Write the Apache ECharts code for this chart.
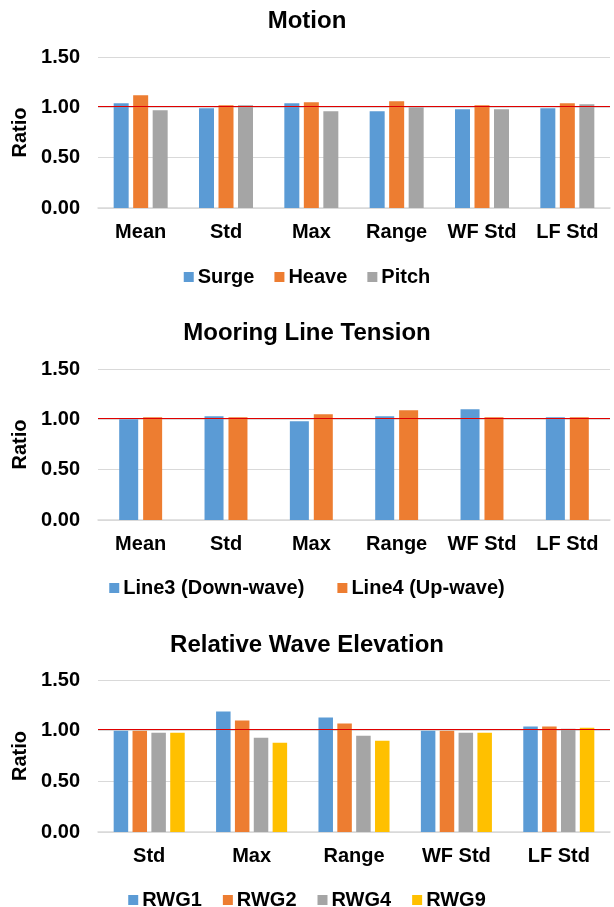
<!DOCTYPE html>
<html>
<head>
<meta charset="utf-8">
<script src="https://cdn.jsdelivr.net/npm/echarts@6/dist/echarts.min.js"></script>
<style>
  html, body { margin: 0; padding: 0; background: #fff; }
  #chart { width: 614px; height: 907px; }
</style>
</head>
<body>
<div id="chart"></div>
<script>
// categories
const motionCats = ['Mean', 'Std', 'Max', 'Range', 'WF Std', 'LF Std']
const mooringCats = ['Mean', 'Std', 'Max', 'Range', 'WF Std', 'LF Std']
const waveCats = ['Std', 'Max', 'Range', 'WF Std', 'LF Std']

// Motion
const surge = [1.04, 0.99, 1.04, 0.96, 0.98, 0.99]
const heave = [1.12, 1.02, 1.05, 1.06, 1.02, 1.04]
const pitch = [0.97, 1.02, 0.96, 1.00, 0.98, 1.03]

// Mooring line tension
const line3 = [1.00, 1.03, 0.98, 1.03, 1.10, 1.02]
const line4 = [1.02, 1.02, 1.05, 1.09, 1.02, 1.02]

// Relative wave elevation
const rwg1 = [1.00, 1.19, 1.13, 1.00, 1.04]
const rwg2 = [1.00, 1.10, 1.07, 1.00, 1.04]
const rwg4 = [0.98, 0.93, 0.95, 0.98, 1.02]
const rwg9 = [0.98, 0.88, 0.90, 0.98, 1.03]

const refValue = 1.01
const yMin = 0, yMax = 1.5, yStep = 0.5

const FONT = "'Liberation Sans', Arial, sans-serif"
const BLUE = '#5b9bd5', ORANGE = '#ed7d31', GRAY = '#a5a5a5', YELLOW = '#ffc000'
const txt = { fontFamily: FONT, fontWeight: 'bold', fontSize: 20, color: '#000' }

const chart = echarts.init(document.getElementById('chart'))

const grids = [
  { left: 98, width: 512, top: 57, height: 151 },
  { left: 98, width: 512, top: 369, height: 151 },
  { left: 98, width: 512, top: 680, height: 152 }
]

function xAxisFor(i, cats) {
  return {
    type: 'category', gridIndex: i, data: cats,
    axisLine: { lineStyle: { color: '#d9d9d9', width: 1.5 } },
    axisTick: { show: false },
    axisLabel: { ...txt, margin: 14, interval: 0 }
  }
}

function yAxisFor(i) {
  return {
    type: 'value', gridIndex: i, min: yMin, max: yMax, interval: yStep,
    name: 'Ratio', nameLocation: 'middle', nameGap: 62,
    nameTextStyle: { ...txt },
    axisLine: { show: false }, axisTick: { show: false },
    axisLabel: { ...txt, margin: 18, formatter: v => v.toFixed(2) },
    splitLine: { lineStyle: { color: '#d9d9d9', width: 1 } }
  }
}

function bars(name, data, color, i, width, gap, withRef) {
  const s = {
    name, type: 'bar', data, xAxisIndex: i, yAxisIndex: i,
    barWidth: width, barGap: gap,
    itemStyle: { color }
  }
  if (withRef) {
    s.markLine = {
      silent: true, symbol: 'none', label: { show: false },
      lineStyle: { color: '#e00000', width: 1, type: 'solid' },
      data: [{ yAxis: refValue }]
    }
  }
  return s
}

function legendFor(names, top, gap) {
  return {
    data: names, top, left: 'center',
    itemWidth: 10, itemHeight: 10, itemGap: gap, icon: 'rect',
    textStyle: { ...txt, padding: [0, 0, 0, -1] }
  }
}

const options = {
  animation: false,
  title: [
    { text: 'Motion', left: 'center', top: 4, textStyle: { ...txt, fontSize: 24 } },
    { text: 'Mooring Line Tension', left: 'center', top: 316, textStyle: { ...txt, fontSize: 24 } },
    { text: 'Relative Wave Elevation', left: 'center', top: 628, textStyle: { ...txt, fontSize: 24 } }
  ],
  legend: [
    legendFor(['Surge', 'Heave', 'Pitch'], 262, 20),
    legendFor(['Line3 (Down-wave)', 'Line4 (Up-wave)'], 573, 33),
    legendFor(['RWG1', 'RWG2', 'RWG4', 'RWG9'], 885, 21)
  ],
  grid: grids,
  xAxis: [xAxisFor(0, motionCats), xAxisFor(1, mooringCats), xAxisFor(2, waveCats)],
  yAxis: [yAxisFor(0), yAxisFor(1), yAxisFor(2)],
  series: [
    bars('Surge', surge, BLUE, 0, 15, '30%', true),
    bars('Heave', heave, ORANGE, 0, 15, '30%'),
    bars('Pitch', pitch, GRAY, 0, 15, '30%'),
    bars('Line3 (Down-wave)', line3, BLUE, 1, 19, '26%', true),
    bars('Line4 (Up-wave)', line4, ORANGE, 1, 19, '26%'),
    bars('RWG1', rwg1, BLUE, 2, 14.5, '30%', true),
    bars('RWG2', rwg2, ORANGE, 2, 14.5, '30%'),
    bars('RWG4', rwg4, GRAY, 2, 14.5, '30%'),
    bars('RWG9', rwg9, YELLOW, 2, 14.5, '30%')
  ]
}

chart.setOption(options)
</script>
</body>
</html>
